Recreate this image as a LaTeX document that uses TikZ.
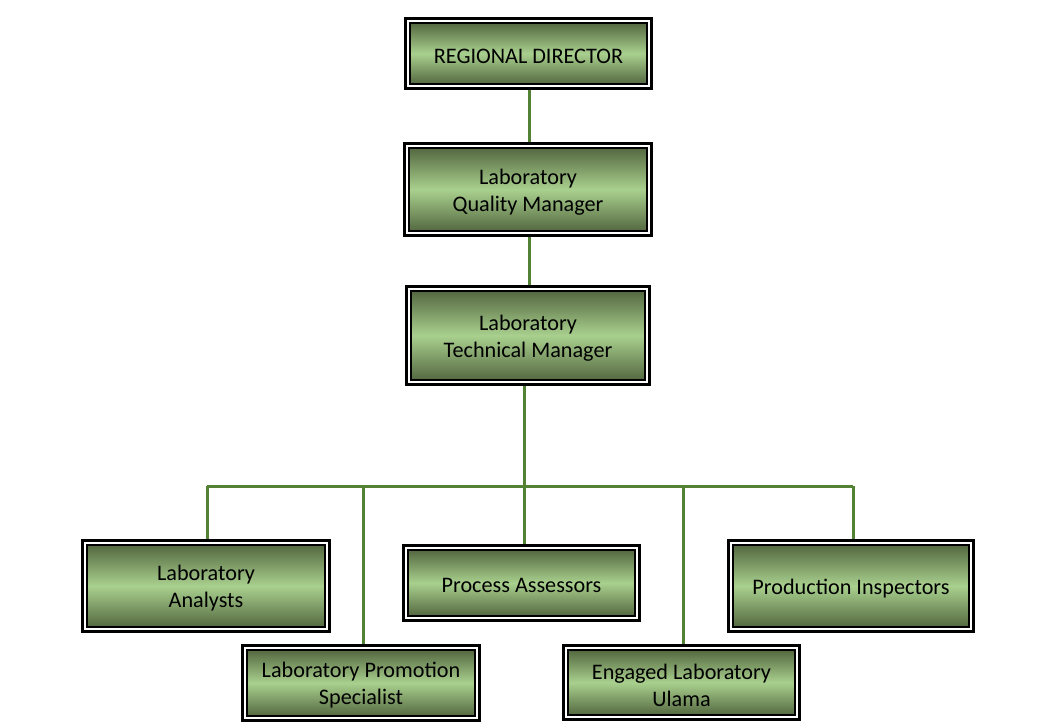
\documentclass[tikz,border=0pt]{standalone}
\usepackage{fontspec}
\setmainfont{Carlito}
\definecolor{gDark}{RGB}{84,104,64}
\definecolor{gLight}{RGB}{169,208,142}
\definecolor{lineGreen}{RGB}{84,130,53}
\tikzset{
  orgbox/.style n args={2}{
    rectangle, draw=black, line width=1.5pt,
    top color=gDark, bottom color=gDark, middle color=gLight,
    minimum width=#1-10pt, minimum height=#2-10pt,
    inner sep=0pt
  },
  boxtext/.style={inner sep=0pt, align=center, text=black,
    font=\fontsize{22.2}{27}\selectfont},
  outerframe/.style={draw=black, line width=3pt},
  conn/.style={draw=lineGreen, line width=3pt}
}
\begin{document}
\begin{tikzpicture}[x=1pt,y=-1pt]
\useasboundingbox (0,0) rectangle (1055,728);

\node[orgbox={247pt}{71pt}] (rd) at (528.5,53.5) {};
\node[orgbox={248pt}{93pt}] (qm) at (528,189.5) {};
\node[orgbox={244pt}{99pt}] (tm) at (528,335.5) {};
\node[orgbox={248pt}{92pt}] (la) at (206,586) {};
\node[orgbox={237pt}{76pt}] (pa) at (521.5,583) {};
\node[orgbox={246pt}{92pt}] (pi) at (851,586) {};
\node[orgbox={238pt}{76pt}] (lps) at (361,683) {};
\node[orgbox={237pt}{75pt}] (elu) at (681.5,682.5) {};

\node[boxtext] (rd-t) at ([yshift=-2.5pt]rd.center) {REGIONAL DIRECTOR};
\node[boxtext] (qm-t) at ([yshift=-2.5pt]qm.center) {Laboratory\\Quality Manager};
\node[boxtext] (tm-t) at ([yshift=-2.5pt]tm.center) {Laboratory\\Technical Manager};
\node[boxtext] (la-t) at ([yshift=-2.5pt]la.center) {Laboratory\\Analysts};
\node[boxtext] (pa-t) at ([yshift=-2.5pt]pa.center) {Process Assessors};
\node[boxtext] (pi-t) at ([yshift=-2.5pt]pi.center) {Production Inspectors};
\node[boxtext] (lps-t) at ([yshift=-2.5pt]lps.center) {Laboratory Promotion\\Specialist};
\node[boxtext] (elu-t) at ([yshift=-2.5pt]elu.center) {Engaged Laboratory\\Ulama};

\foreach \n in {rd,qm,tm,la,pa,pi,lps,elu}{
  \draw[outerframe] ([shift={(-3.5pt,-3.5pt)}]\n.south west) rectangle ([shift={(3.5pt,3.5pt)}]\n.north east);
}

\coordinate (top) at (524,386);
\coordinate (b1) at (207,486);
\coordinate (b2) at (363,486);
\coordinate (b3) at (524,486);
\coordinate (b4) at (683,486);
\coordinate (b5) at (853,486);
\coordinate (s1) at (529,0);

\draw[conn] ([yshift=-5pt]rd.south -| s1) -- ([yshift=5pt]qm.north -| s1);
\draw[conn] ([yshift=-5pt]qm.south -| s1) -- ([yshift=5pt]tm.north -| s1);
\draw[conn] (top) -- (b3);
\draw[conn] (b1) -- (b5);
\draw[conn] (b1) -- ([yshift=5pt]la.north -| b1);
\draw[conn] (b2) -- ([yshift=5pt]lps.north -| b2);
\draw[conn] (b3) -- ([yshift=5pt]pa.north -| b3);
\draw[conn] (b4) -- ([yshift=5pt]elu.north -| b4);
\draw[conn] (b5) -- ([yshift=5pt]pi.north -| b5);
\end{tikzpicture}
\end{document}
